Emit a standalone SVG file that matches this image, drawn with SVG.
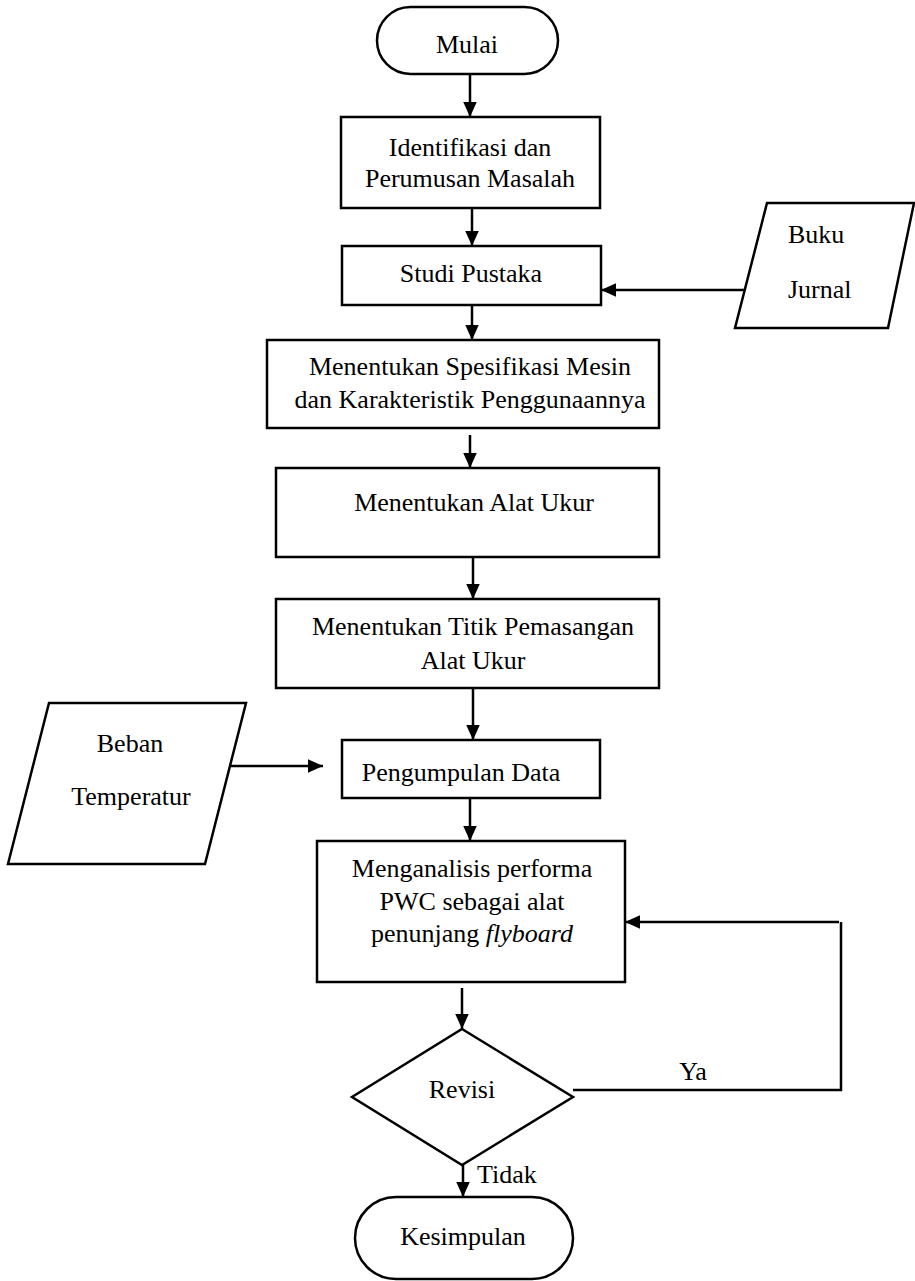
<svg xmlns="http://www.w3.org/2000/svg" width="915" height="1281" viewBox="0 0 915 1281">
<defs>
<style>
.s{fill:#fff;stroke:#000;stroke-width:2.5}
.t{font-family:'Liberation Serif','Times New Roman',serif;font-size:26px;fill:#000;text-anchor:middle}
.l{text-anchor:start}
.c{fill:none;stroke:#000;stroke-width:2.5}
</style>
<marker id="ah" viewBox="0 0 10 10" refX="10" refY="5" markerWidth="15" markerHeight="15" markerUnits="userSpaceOnUse" orient="auto">
<path d="M0,0.5 L10,5 L0,9.5 Z" fill="#000"/>
</marker>
</defs>
<rect width="915" height="1281" fill="#fff"/>
<g id="connectors">
<line class="c" x1="470" y1="74" x2="470" y2="117" marker-end="url(#ah)"/>
<line class="c" x1="472" y1="208" x2="472" y2="246" marker-end="url(#ah)"/>
<line class="c" x1="745" y1="290" x2="601" y2="290" marker-end="url(#ah)"/>
<line class="c" x1="472" y1="305" x2="472" y2="340" marker-end="url(#ah)"/>
<line class="c" x1="470" y1="435" x2="470" y2="468" marker-end="url(#ah)"/>
<line class="c" x1="473" y1="557" x2="473" y2="599" marker-end="url(#ah)"/>
<line class="c" x1="473" y1="688" x2="473" y2="740" marker-end="url(#ah)"/>
<line class="c" x1="231" y1="766" x2="323" y2="766" marker-end="url(#ah)"/>
<line class="c" x1="470" y1="798" x2="470" y2="841" marker-end="url(#ah)"/>
<line class="c" x1="462" y1="988" x2="462" y2="1029" marker-end="url(#ah)"/>
<polyline class="c" points="573,1090 841,1090 841,922"/>
<line class="c" x1="839" y1="922" x2="625" y2="922" marker-end="url(#ah)"/>
<line class="c" x1="463" y1="1165" x2="463" y2="1197" marker-end="url(#ah)"/>
<text class="t" x="693" y="1080">Ya</text>
<text class="t l" x="477" y="1183">Tidak</text>
</g>
<g id="mulai">
<rect class="s" x="377" y="7" width="181" height="67" rx="33.5"/>
<text class="t" x="467" y="53">Mulai</text>
</g>
<g id="identifikasi">
<rect class="s" x="341" y="117" width="259" height="91"/>
<text class="t" x="470" y="156">Identifikasi dan</text>
<text class="t" x="470" y="187">Perumusan Masalah</text>
</g>
<g id="studi">
<rect class="s" x="342" y="246" width="259" height="59"/>
<text class="t" x="471" y="282">Studi Pustaka</text>
</g>
<g id="buku">
<polygon class="s" points="767,203 914,203 888,328 735,328"/>
<text class="t l" x="788" y="243">Buku</text>
<text class="t l" x="788" y="298">Jurnal</text>
</g>
<g id="spesifikasi">
<rect class="s" x="267" y="340" width="392" height="88"/>
<text class="t" x="470" y="375">Menentukan Spesifikasi Mesin</text>
<text class="t" x="470" y="408">dan Karakteristik Penggunaannya</text>
</g>
<g id="alatukur">
<rect class="s" x="276" y="468" width="383" height="89"/>
<text class="t" x="474" y="511">Menentukan Alat Ukur</text>
</g>
<g id="titik">
<rect class="s" x="276" y="599" width="383" height="89"/>
<text class="t" x="473" y="635">Menentukan Titik Pemasangan</text>
<text class="t" x="473" y="669">Alat Ukur</text>
</g>
<g id="beban">
<polygon class="s" points="49,703 246,703 205,864 8,864"/>
<text class="t" x="130" y="752">Beban</text>
<text class="t" x="131" y="805">Temperatur</text>
</g>
<g id="pengumpulan">
<rect class="s" x="342" y="740" width="258" height="58"/>
<text class="t" x="461" y="781">Pengumpulan Data</text>
</g>
<g id="menganalisis">
<rect class="s" x="317" y="841" width="308" height="141"/>
<text class="t" x="472" y="877">Menganalisis performa</text>
<text class="t" x="472" y="910">PWC sebagai alat</text>
<text class="t" x="472" y="942">penunjang <tspan font-style="italic">flyboard</tspan></text>
</g>
<g id="revisi">
<polygon class="s" points="462,1029 573,1097 462,1165 352,1097"/>
<text class="t" x="462" y="1098">Revisi</text>
</g>
<g id="kesimpulan">
<rect class="s" x="355" y="1197" width="218" height="82" rx="41"/>
<text class="t" x="463" y="1245">Kesimpulan</text>
</g>
</svg>
